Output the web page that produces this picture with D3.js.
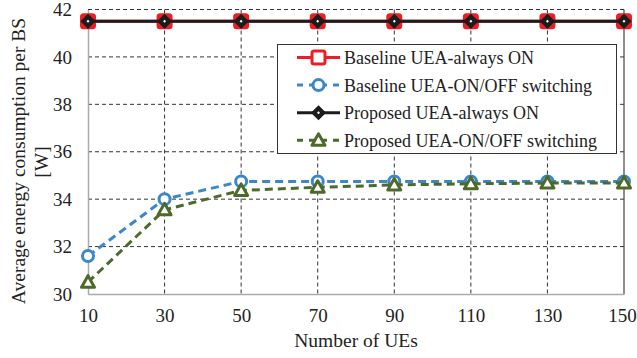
<!DOCTYPE html>
<html><head><meta charset="utf-8">
<script src="https://cdn.jsdelivr.net/npm/d3@7"></script>
<style>body{margin:0;background:#fff}svg{display:block}</style>
</head><body><svg id="c" width="637" height="358"></svg>
<script>
const ues = [10, 30, 50, 70, 90, 110, 130, 150];
const baselineAlwaysOn = [41.5, 41.5, 41.5, 41.5, 41.5, 41.5, 41.5, 41.5];
const baselineSwitching = [31.6, 34.0, 34.75, 34.75, 34.75, 34.75, 34.75, 34.75];
const proposedAlwaysOn = [41.5, 41.5, 41.5, 41.5, 41.5, 41.5, 41.5, 41.5];
const proposedSwitching = [30.5, 33.55, 34.37, 34.5, 34.6, 34.65, 34.68, 34.68];
const yTicks = [30, 32, 34, 36, 38, 40, 42];
const seriesNames = ["Baseline UEA-always ON", "Baseline UEA-ON/OFF switching", "Proposed UEA-always ON", "Proposed UEA-ON/OFF switching"];

const series = [
  {name: seriesNames[0], values: baselineAlwaysOn, color: "#ee1c25", dash: null, marker: "square"},
  {name: seriesNames[1], values: baselineSwitching, color: "#3b87c9", dash: "8,5", marker: "circle"},
  {name: seriesNames[2], values: proposedAlwaysOn, color: "#1c1c1c", dash: null, marker: "diamond"},
  {name: seriesNames[3], values: proposedSwitching, color: "#4d6a2a", dash: "8,5", marker: "triangle"}
];

const FONT = "Liberation Serif";
const TXT = "#222";
const svg = d3.select("#c");
const L = 88, R = 624, T = 9.5, B = 294;
const x = d3.scalePoint().domain(ues).range([L, R]);
const y = d3.scaleLinear().domain([30, 42]).range([B, T]);

const g = svg.append("g");
g.selectAll(".hg").data(yTicks.filter(v => v > 30)).join("line")
  .attr("x1", L).attr("x2", R).attr("y1", d => y(d)).attr("y2", d => y(d))
  .attr("stroke", "#333").attr("stroke-width", 1).attr("stroke-dasharray", "4,3");
g.selectAll(".vg").data(ues.slice(1, -1)).join("line")
  .attr("x1", d => x(d)).attr("x2", d => x(d)).attr("y1", T).attr("y2", B)
  .attr("stroke", "#333").attr("stroke-width", 1).attr("stroke-dasharray", "4,3");
svg.append("line").attr("x1", R).attr("x2", R).attr("y1", T).attr("y2", B).attr("stroke", "#444").attr("stroke-width", 1.2);

const yAxis = d3.axisLeft(y).tickValues(yTicks).tickSize(0).tickPadding(16);
const ya = svg.append("g").attr("transform", `translate(${L},0)`).call(yAxis);
ya.attr("font-family", FONT).attr("font-size", 19);
ya.select(".domain").attr("stroke", "#aaa").attr("stroke-width", 1.5);
ya.selectAll("text").attr("fill", TXT);
const xAxis = d3.axisBottom(x).tickSize(0).tickPadding(15);
const xa = svg.append("g").attr("transform", `translate(0,${B})`).call(xAxis);
xa.attr("font-family", FONT).attr("font-size", 19);
xa.select(".domain").attr("stroke", "#aaa").attr("stroke-width", 1.5);
xa.selectAll("text").attr("fill", TXT).attr("dx", d => d === ues[ues.length - 1] ? -2 : 0);

function drawMarker(sel, type, color, legend) {
  if (type === "square") {
    sel.append("rect").attr("x", -6.5).attr("y", -6.5).attr("width", 13).attr("height", 13).attr("rx", 2)
      .attr("fill", legend ? "#fff" : color).attr("stroke", color).attr("stroke-width", 3);
  } else if (type === "circle") {
    sel.append("circle").attr("r", 5.5).attr("fill", "#fff").attr("stroke", color).attr("stroke-width", 3);
  } else if (type === "diamond") {
    sel.append("path").attr("d", "M0,-6.5L6.5,0L0,6.5L-6.5,0Z").attr("fill", color).attr("stroke", color).attr("stroke-width", 1.5);
    sel.append("path").attr("d", "M0,-1.5L1.5,0L0,1.5L-1.5,0Z").attr("fill", "#fff");
  } else if (type === "triangle") {
    sel.append("path").attr("d", "M0,-6.5L6.5,5L-6.5,5Z").attr("fill", "#fff").attr("stroke", color).attr("stroke-width", 3).attr("stroke-linejoin", "round");
  }
}

const line = d3.line().x((d, i) => x(ues[i])).y(d => y(d));
series.forEach(s => {
  svg.append("path").datum(s.values).attr("d", line).attr("fill", "none")
    .attr("stroke", s.color).attr("stroke-width", 3).attr("stroke-dasharray", s.dash);
  s.values.forEach((v, i) => {
    const m = svg.append("g").attr("transform", `translate(${x(ues[i])},${y(v)})`);
    drawMarker(m, s.marker, s.color, false);
  });
});

const lg = svg.append("g");
lg.append("rect").attr("x", 277.5).attr("y", 44.5).attr("width", 339).attr("height", 109)
  .attr("fill", "#fff").attr("stroke", "#333").attr("stroke-width", 1);
series.forEach((s, i) => {
  const yy = 57.5 + i * 27.6;
  lg.append("line").attr("x1", 297).attr("x2", 340).attr("y1", yy).attr("y2", yy)
    .attr("stroke", s.color).attr("stroke-width", 3).attr("stroke-dasharray", s.dash ? "6,6" : null);
  const m = lg.append("g").attr("transform", `translate(318.5,${yy})`);
  drawMarker(m, s.marker, s.color, true);
  lg.append("text").attr("x", 344).attr("y", yy + 6.5).attr("font-size", 18).attr("font-family", FONT).attr("fill", TXT).text(s.name);
});

svg.append("text").attr("x", 356).attr("y", 347).attr("text-anchor", "middle").attr("font-size", 19.5).attr("font-family", FONT).attr("fill", TXT).text("Number of UEs");
svg.append("text").attr("transform", "translate(25,161) rotate(-90)").attr("text-anchor", "middle").attr("font-size", 19.5).attr("font-family", FONT).attr("fill", TXT)
  .text("Average energy consumption per BS");
svg.append("text").attr("transform", "translate(48,162) rotate(-90)").attr("text-anchor", "middle").attr("font-size", 19.5).attr("font-family", FONT).attr("fill", TXT)
  .text("[W]");
</script></body></html>
